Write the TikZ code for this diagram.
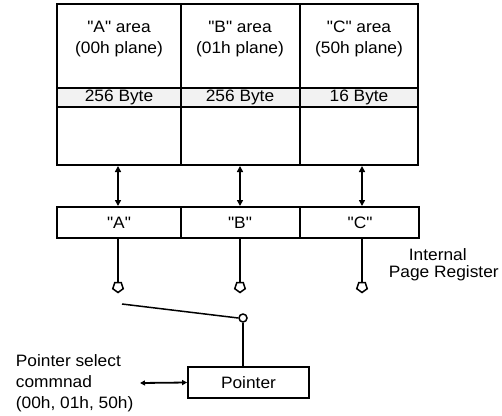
\documentclass[tikz,border=0pt]{standalone}
\usepackage{fontspec}
\setmainfont{Liberation Sans}[FakeStretch=1.05,Ligatures=TeXOff]
\usetikzlibrary{arrows.meta,shapes.geometric}
\begin{document}
\begin{tikzpicture}[x=1pt,y=-1pt,line width=1.8pt,
  lbl/.style={font=\fontsize{16.5}{21}\selectfont,inner sep=0pt,align=center},
  dbl/.style={{Triangle[width=6pt,length=6pt]}-{Triangle[width=6pt,length=6pt]},line width=1.8pt},
  contact/.style={draw,regular polygon,regular polygon sides=5,shape border rotate=180,minimum size=11pt,inner sep=0pt,line width=1.5pt},
  pivot/.style={draw,circle,minimum size=8pt,inner sep=0pt,line width=1.5pt},
  box/.style={draw,inner sep=0pt,font=\fontsize{16.5}{21}\selectfont}]
\useasboundingbox (0,0) rectangle (502,415);
% memory areas
\fill[black!5] (57,88) rectangle (418,107);
\draw (57,4) rectangle (418,165);
\draw (57,88) -- (418,88);
\draw (57,107) -- (418,107);
\draw (181,4) -- (181,165);
\draw (300,4) -- (300,165);
\node[lbl] (ta) at (119,39) {"A" area\\(00h plane)};
\node[lbl] (tb) at (240,39) {"B" area\\(01h plane)};
\node[lbl] (tc) at (359,39) {"C" area\\(50h plane)};
\node[lbl] (ba) at (119,97.5) {256 Byte};
\node[lbl] (bb) at (240,97.5) {256 Byte};
\node[lbl] (bc) at (359,97.5) {16 Byte};
% register
\draw (57,207) rectangle (419,238);
\draw (181,207) -- (181,238);
\draw (300,207) -- (300,238);
\node[lbl] (ra) at (119,222.5) {"A"};
\node[lbl] (rb) at (240,222.5) {"B"};
\node[lbl] (rc) at (360,222.5) {"C"};
\node[lbl,anchor=west] (ipr1) at (408,255) {Internal};
\node[lbl,anchor=west] (ipr2) at (388,273) {Page Register};
% arrows area <-> register
\coordinate (aa1) at (118,166); \coordinate (aa2) at (118,206);
\coordinate (ab1) at (240,166); \coordinate (ab2) at (240,206);
\coordinate (ac1) at (362,166); \coordinate (ac2) at (362,206);
\draw[dbl] (aa1) -- (aa2);
\draw[dbl] (ab1) -- (ab2);
\draw[dbl] (ac1) -- (ac2);
% contacts
\node[contact] (ca) at (118,287) {};
\node[contact] (cb) at (240,287) {};
\node[contact] (cc) at (362,287) {};
\coordinate (la) at (118,238); \coordinate (lb) at (240,238); \coordinate (lc) at (362,238);
\draw (la) -- (ca.north);
\draw (lb) -- (cb.north);
\draw (lc) -- (cc.north);
% switch
\node[pivot] (pv) at (243,318) {};
\coordinate (sw) at (122,304);
\draw[line width=1.5pt] (sw) -- (pv.west);
% pointer
\node[box,minimum width=121pt,minimum height=31pt] (ptr) at (248.5,382.5) {Pointer};
\draw (pv.south) -- (pv.south |- ptr.north);
\node[lbl,anchor=west,align=left] (psc) at (15,383) {Pointer select\\commnad\\(00h, 01h, 50h)};
\coordinate (ps) at (140,383);
\draw[{Triangle[width=5pt,length=5pt]}-{Triangle[width=5pt,length=5pt]}] (ps) -- (ptr.west);
\end{tikzpicture}
\end{document}
